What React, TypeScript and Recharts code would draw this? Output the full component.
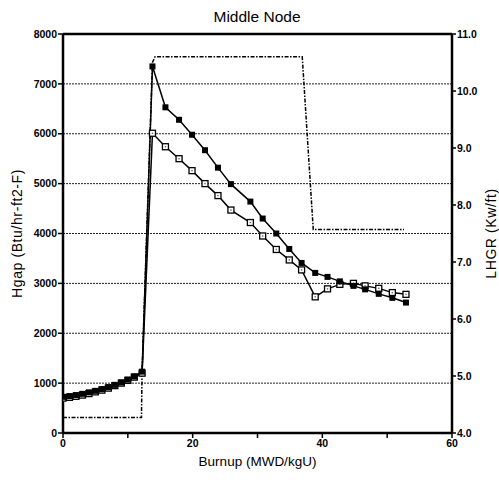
import { ComposedChart, Line, XAxis, YAxis, CartesianGrid, ReferenceLine, Label } from 'recharts'

// Burnup points (MWD/kgU) for the two Hgap series
const burnup = [0, 1, 2, 3, 4, 5, 6, 7, 8, 9, 10, 11, 12.2, 13.8, 15.8, 17.9, 19.9, 21.9, 23.9, 25.9, 28.9, 30.8, 32.9, 34.9, 36.8, 38.9, 40.8, 42.7, 44.8, 46.6, 48.7, 50.8, 52.9]
const hgapFilled = [725, 740, 760, 785, 815, 845, 880, 920, 965, 1015, 1070, 1135, 1230, 7350, 6530, 6280, 5980, 5670, 5320, 4990, 4640, 4300, 4000, 3690, 3410, 3210, 3130, 3040, 2950, 2880, 2790, 2710, 2615]
const hgapOpen = [700, 715, 735, 760, 790, 825, 860, 900, 950, 1000, 1055, 1120, 1200, 6010, 5740, 5500, 5260, 5000, 4760, 4470, 4220, 3950, 3680, 3470, 3270, 2730, 2890, 2980, 3000, 2950, 2900, 2815, 2780]

// LHGR power history (Kw/ft)
const burnupLhgr = [0, 12.1, 12.2, 13.8, 14.2, 36.9, 38.6, 52.6]
const lhgr = [4.27, 4.27, 5.1, 10.5, 10.6, 10.6, 7.57, 7.57]

const hgapTicks = [0, 1000, 2000, 3000, 4000, 5000, 6000, 7000, 8000]
const lhgrTicks = [4, 5, 6, 7, 8, 9, 10, 11]
const burnupTicks = [0, 10, 20, 30, 40, 50, 60]
const labelledBurnup = [0, 20, 40, 60]

const filledData = burnup.map((x, i) => ({ x, y: hgapFilled[i] }))
const openData = burnup.map((x, i) => ({ x, y: hgapOpen[i] }))
const lhgrData = burnupLhgr.map((x, i) => ({ x, y: lhgr[i] }))

const font = '"Liberation Sans", Arial, Helvetica, sans-serif'
const tickStyle = { fontSize: 10.5, fontWeight: 700, fill: '#000', fontFamily: font }

const FilledSquare = (props: any) => {
  const { cx, cy, index } = props
  if (cx == null || cy == null) return <g key={index} />
  return <rect key={index} x={cx - 3} y={cy - 3} width={6} height={6} fill="#000" />
}

const OpenSquare = (props: any) => {
  const { cx, cy, index } = props
  if (cx == null || cy == null) return <g key={index} />
  return (
    <g key={index}>
      <rect x={cx - 3} y={cy - 3} width={6} height={6} fill="#fff" stroke="#000" strokeWidth={1.3} />
      <rect x={cx - 0.7} y={cy - 0.7} width={1.4} height={1.4} fill="#666" />
    </g>
  )
}

export default function App() {
  return (
    <div style={{ position: 'absolute', top: 0, left: 0, width: 499, height: 480, background: '#fff' }}>
      <ComposedChart width={499} height={480} margin={{ top: 34, right: 7, bottom: 17, left: 13 }}>
        <CartesianGrid yAxisId="left" vertical={false} stroke="#222" strokeDasharray="2 1" />
        <XAxis
          type="number"
          dataKey="x"
          domain={[0, 60]}
          ticks={burnupTicks}
          allowDataOverflow
          height={30}
          tick={tickStyle}
          tickSize={5}
          tickMargin={2}
          tickFormatter={(v: number) => (labelledBurnup.includes(v) ? String(v) : '')}
          axisLine={{ stroke: '#000', strokeWidth: 2.5 }}
          tickLine={{ stroke: '#000', strokeWidth: 1.5 }}
        >
          <Label value="Burnup (MWD/kgU)" position="center" dy={13} style={{ fontSize: 13.5, fill: '#000', fontFamily: font }} />
        </XAxis>
        <YAxis
          yAxisId="left"
          domain={[0, 8000]}
          ticks={hgapTicks}
          width={50}
          tick={tickStyle}
          tickSize={5}
          tickMargin={1}
          axisLine={{ stroke: '#000', strokeWidth: 2.5 }}
          tickLine={{ stroke: '#000', strokeWidth: 1.5 }}
        >
          <Label value="Hgap (Btu/hr-ft2-F)" position="center" angle={-90} dx={-21} style={{ fontSize: 14, letterSpacing: 0.6, fill: '#000', fontFamily: font }} />
        </YAxis>
        <YAxis
          yAxisId="right"
          orientation="right"
          domain={[4, 11]}
          ticks={lhgrTicks}
          width={40}
          tick={tickStyle}
          tickSize={4}
          tickMargin={1}
          tickFormatter={(v: number) => v.toFixed(1)}
          axisLine={{ stroke: '#000', strokeWidth: 2.5 }}
          tickLine={{ stroke: '#000', strokeWidth: 1.5 }}
        >
          <Label value="LHGR (Kw/ft)" position="center" angle={-90} dx={19} style={{ fontSize: 14, letterSpacing: 0.6, fill: '#000', fontFamily: font }} />
        </YAxis>
        <ReferenceLine yAxisId="left" y={8000} stroke="#000" strokeWidth={2.5} />
        <Line
          yAxisId="right"
          data={lhgrData}
          dataKey="y"
          type="linear"
          stroke="#000"
          strokeWidth={1.5}
          strokeDasharray="4 1.5 1.5 1.5"
          dot={false}
          isAnimationActive={false}
        />
        <Line
          yAxisId="left"
          data={openData}
          dataKey="y"
          type="linear"
          stroke="#000"
          strokeWidth={1.5}
          dot={OpenSquare}
          isAnimationActive={false}
        />
        <Line
          yAxisId="left"
          data={filledData}
          dataKey="y"
          type="linear"
          stroke="#000"
          strokeWidth={1.5}
          dot={FilledSquare}
          isAnimationActive={false}
        />
        <text x={257} y={22} textAnchor="middle" style={{ fontSize: 15.5, fill: '#000', fontFamily: font }}>
          Middle Node
        </text>
      </ComposedChart>
    </div>
  )
}
